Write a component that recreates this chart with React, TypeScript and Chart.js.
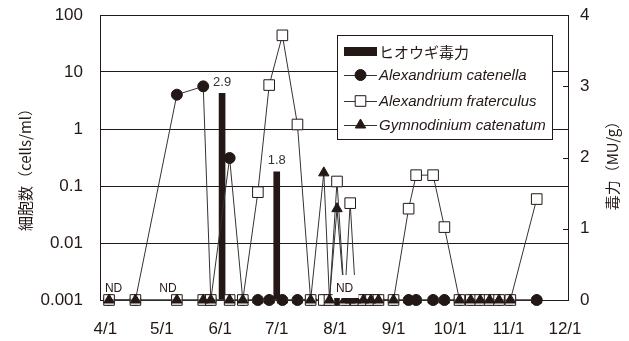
import React, { useEffect, useRef } from 'react';
import { Chart, registerables } from 'chart.js';

Chart.register(...registerables);

// ND (not detected) is plotted on the 0.001 baseline of the log axis
const ND = 0.001;

// sampling days counted from 4/1
const sampleDays = [2, 16, 38, 52, 56, 66, 73, 81, 87, 94, 102, 109, 116, 119, 123, 127, 130, 133, 137, 141, 145, 153, 161, 165, 174, 180, 188, 194, 199, 204, 209, 215, 229];

const catenella = [ND, ND, 4.0, 5.6, ND, 0.31, ND, ND, ND, ND, ND, ND, ND, ND, ND, ND, ND, ND, ND, ND, ND, ND, ND, ND, ND, ND, ND, ND, ND, ND, ND, ND, ND];
const fraterculus = [ND, ND, ND, ND, ND, ND, ND, 0.078, 5.9, 44, 1.2, ND, ND, ND, 0.12, ND, 0.05, ND, ND, ND, ND, ND, 0.04, 0.155, 0.155, 0.019, ND, ND, ND, ND, ND, ND, 0.059];
const gymnodinium = [ND, ND, ND, ND, ND, ND, ND, ND, ND, ND, ND, ND, 0.17, ND, 0.04, ND, ND, ND, ND, ND, ND, ND, ND, ND, ND, ND, ND, ND, ND, ND, ND, ND, ND];

// toxicity of the scallop (MU/g)
const toxDays = [62, 91];
const toxValues = [2.9, 1.8];

// ND annotations
const ndDays = [4.4, 33.3, 127];
const ndBoxed = [false, false, true];

// axis ticks
const monthDays = [0, 30, 61, 91, 122, 153, 183, 214, 244];
const monthLabels = ['4/1', '5/1', '6/1', '7/1', '8/1', '9/1', '10/1', '11/1', '12/1'];
const cellTicks = [0.001, 0.01, 0.1, 1, 10, 100];
const cellTickLabels = ['0.001', '0.01', '0.1', '1', '10', '100'];
const toxTicks = [0, 1, 2, 3, 4];
const toxTickLabels = ['0', '1', '2', '3', '4'];

const seriesNames = ['ヒオウギ毒力', 'Alexandrium catenella', 'Alexandrium fraterculus', 'Gymnodinium catenatum'];
const leftTitle = '細胞数（cells/ml）';
const rightTitle = '毒力（MU/g）';

const INK = '#231815';
const LATIN = '"Liberation Sans", Arial, sans-serif';
const CJK = '"Noto Sans CJK JP", "Noto Sans", sans-serif';

function marker(ctx: CanvasRenderingContext2D, kind: string, x: number, y: number) {
  ctx.save();
  ctx.lineWidth = 1;
  ctx.strokeStyle = INK;
  ctx.beginPath();
  if (kind === 'circle') {
    ctx.fillStyle = INK;
    ctx.arc(x, y, 5.5, 0, Math.PI * 2);
    ctx.fill();
    ctx.stroke();
  } else if (kind === 'rect') {
    ctx.fillStyle = '#fff';
    const s = 5.3;
    ctx.rect(x - s, y - s, 2 * s, 2 * s);
    ctx.fill();
    ctx.stroke();
  } else {
    ctx.fillStyle = INK;
    const r = 6;
    ctx.moveTo(x, y - r);
    ctx.lineTo(x + r * Math.sin((2 * Math.PI) / 3), y - r * Math.cos((2 * Math.PI) / 3));
    ctx.lineTo(x + r * Math.sin((4 * Math.PI) / 3), y - r * Math.cos((4 * Math.PI) / 3));
    ctx.closePath();
    ctx.fill();
    ctx.stroke();
  }
  ctx.restore();
}

const overlay = {
  id: 'overlay',
  afterDatasetsDraw(chart: any) {
    const ctx: CanvasRenderingContext2D = chart.ctx;
    const xs = chart.scales.x;
    const ys = chart.scales.y;
    const y2 = chart.scales.y2;
    const area = chart.chartArea;
    ctx.save();
    // inward tick marks on the right (toxicity) axis
    ctx.strokeStyle = INK;
    ctx.lineWidth = 1;
    toxTicks.forEach((v) => {
      const py = Math.round(y2.getPixelForValue(v)) + 0.5;
      ctx.beginPath();
      ctx.moveTo(area.right - 5, py);
      ctx.lineTo(area.right, py);
      ctx.stroke();
    });
    // bar value labels
    const barMeta = chart.getDatasetMeta(0);
    ctx.font = `13px ${LATIN}`;
    ctx.fillStyle = '#333';
    ctx.textAlign = 'center';
    ctx.textBaseline = 'middle';
    barMeta.data.forEach((el: any, i: number) => {
      ctx.fillText(toxValues[i].toFixed(1), el.x, el.y - 11);
    });
    // ND labels
    const base = ys.getPixelForValue(ND);
    ndDays.forEach((d, i) => {
      const cx = xs.getPixelForValue(d);
      if (ndBoxed[i]) {
        ctx.fillStyle = '#fff';
        ctx.fillRect(cx - 12, base - 25, 26, 23);
      }
      ctx.fillStyle = INK;
      ctx.font = `12px ${LATIN}`;
      ctx.fillText('ND', cx, base - 11);
    });

    // legend
    const lx = area.left + 237;
    const ly = area.top + 20;
    const lw = 215;
    const lh = 104;
    ctx.fillStyle = '#fff';
    ctx.fillRect(lx, ly, lw, lh);
    ctx.strokeStyle = INK;
    ctx.lineWidth = 1;
    ctx.strokeRect(lx + 0.5, ly + 0.5, lw, lh);
    const rows = [ly + 17, ly + 40, ly + 66, ly + 90];
    const sx0 = lx + 7;
    const sx1 = lx + 40;
    const tx = lx + 42;
    ctx.fillStyle = INK;
    ctx.fillRect(sx0, rows[0] - 5, sx1 - sx0, 9);
    const kinds = ['circle', 'rect', 'triangle'];
    for (let k = 0; k < 3; k++) {
      const ry = rows[k + 1];
      ctx.beginPath();
      ctx.strokeStyle = '#333';
      ctx.moveTo(sx0, ry + 0.5);
      ctx.lineTo(sx1, ry + 0.5);
      ctx.stroke();
      marker(ctx, kinds[k], (sx0 + sx1) / 2, ry);
    }
    ctx.textAlign = 'left';
    ctx.textBaseline = 'middle';
    ctx.fillStyle = INK;
    ctx.font = `15px ${CJK}`;
    ctx.fillText(seriesNames[0], tx, rows[0]);
    ctx.font = `italic 15px ${LATIN}`;
    for (let k = 1; k < 4; k++) ctx.fillText(seriesNames[k], tx, rows[k] + 1);

    // axis titles (both read bottom to top)
    ctx.font = `15px ${CJK}`;
    ctx.textAlign = 'center';
    ctx.textBaseline = 'alphabetic';
    ctx.save();
    ctx.translate(25, 166);
    ctx.rotate(-Math.PI / 2);
    ctx.fillText(leftTitle, 0, 6);
    ctx.restore();
    ctx.save();
    ctx.translate(612, 162);
    ctx.rotate(-Math.PI / 2);
    ctx.fillText(rightTitle, 0, 6);
    ctx.restore();
    ctx.restore();
  },
};

export default function App() {
  const ref = useRef<HTMLCanvasElement | null>(null);
  useEffect(() => {
    if (!ref.current) return;
    const tickFont = { family: LATIN, size: 17 };
    const lineDs = (label: string, values: number[], style: string, radius: number, fill: string, order: number) => ({
      type: 'line' as const,
      label,
      data: sampleDays.map((d, i) => ({ x: d, y: values[i] })),
      xAxisID: 'x',
      yAxisID: 'y',
      borderColor: '#333',
      borderWidth: 1,
      tension: 0,
      pointStyle: style,
      pointRadius: radius,
      pointBackgroundColor: fill,
      pointBorderColor: INK,
      pointBorderWidth: 1,
      clip: false as any,
      order,
    });
    const chart = new Chart(ref.current, {
      type: 'line',
      data: {
        datasets: [
          {
            type: 'bar' as const,
            label: seriesNames[0],
            data: toxDays.map((d, i) => ({ x: d, y: toxValues[i] })),
            xAxisID: 'x',
            yAxisID: 'y2',
            backgroundColor: INK,
            borderWidth: 0,
            barThickness: 6,
            order: 4,
          } as any,
          lineDs(seriesNames[1], catenella, 'circle', 5.5, INK, 3),
          lineDs(seriesNames[2], fraterculus, 'rect', 7.5, '#fff', 2),
          lineDs(seriesNames[3], gymnodinium, 'triangle', 6, INK, 1),
        ],
      },
      options: {
        responsive: false,
        animation: false,
        layout: { padding: { top: 15, left: 0, right: 0, bottom: 0 } },
        plugins: { legend: { display: false }, tooltip: { enabled: false } },
        scales: {
          x: {
            type: 'linear',
            min: -2.8,
            max: 245.6,
            offset: false,
            grid: { display: true, drawOnChartArea: false, drawTicks: false, offset: false },
            border: { display: true, color: INK, width: 1 },
            afterBuildTicks: (s: any) => {
              s.ticks = monthDays.map((v) => ({ value: v }));
            },
            afterFit: (s: any) => {
              s.height = 41;
            },
            ticks: {
              autoSkip: false,
              maxRotation: 0,
              padding: 19,
              color: INK,
              font: tickFont,
              callback: (_v: any, i: number) => monthLabels[i],
            },
          },
          y: {
            type: 'logarithmic',
            position: 'left',
            min: 0.001,
            max: 100,
            grid: { color: INK, lineWidth: 1, drawTicks: true, tickLength: 17, tickColor: 'rgba(0,0,0,0)' },
            border: { display: true, color: INK, width: 1 },
            afterBuildTicks: (s: any) => {
              s.ticks = cellTicks.map((v) => ({ value: v }));
            },
            afterFit: (s: any) => {
              s.width = 100;
            },
            ticks: {
              padding: 0,
              color: INK,
              font: tickFont,
              callback: (_v: any, i: number) => cellTickLabels[i],
            },
          },
          y2: {
            type: 'linear',
            position: 'right',
            min: 0,
            max: 4,
            grid: { display: true, drawOnChartArea: false, drawTicks: true, tickLength: 12, tickColor: 'rgba(0,0,0,0)' },
            border: { display: true, color: INK, width: 1 },
            afterBuildTicks: (s: any) => {
              s.ticks = toxTicks.map((v) => ({ value: v }));
            },
            afterFit: (s: any) => {
              s.width = 61;
            },
            ticks: {
              padding: 0,
              color: INK,
              font: tickFont,
              callback: (_v: any, i: number) => toxTickLabels[i],
            },
          },
        },
      } as any,
      plugins: [overlay],
    });
    return () => chart.destroy();
  }, []);
  return (
    <div style={{ position: 'fixed', left: 0, top: 0, width: 629, height: 341, background: '#fff' }}>
      <canvas ref={ref} width={629} height={341} style={{ display: 'block' }} />
    </div>
  );
}
